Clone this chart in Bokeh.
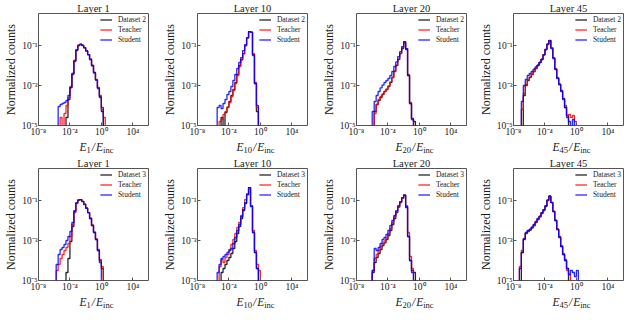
import numpy as np
from bokeh.plotting import figure
from bokeh.layouts import row, column
from bokeh.models import (Label, Legend, LegendItem, FixedTicker,
                          CustomJSTickFormatter, Range1d)
from bokeh.embed import file_html
from bokeh.resources import INLINE

# ---------------------------------------------------------------- data
LAYER_NAMES = ["Layer 1", "Layer 10", "Layer 20", "Layer 45"]
LAYER_SUBS = ["1", "10", "20", "45"]
DATASET_NAMES = ["Dataset 2", "Dataset 3"]
MODEL_NAMES = ["Teacher", "Student"]
Y_AXIS_TITLE = "Normalized counts"
X_TICKS = [1e-8, 1e-4, 1e0, 1e4]
Y_TICKS = [1e-5, 1e-3, 1e-1]
X_LIMITS = (1e-8, 1e6)
Y_LIMITS = (1e-5, 4.0)

# histogram binning: width of a bin in decades, first edge (log10) per panel
BIN_WIDTH_DEX = 0.25
BIN_START_D2 = [-5.5, -5.5, -6.0, -7.0]
BIN_START_D3 = [-5.75, -5.5, -6.0, -7.25]

# normalized counts per bin, given as log10 values (None = empty bin)
# ---- Dataset 2 row
D2_L1_DATA = [None, None, None, None, -4.6, -3.7, -3.1, -2.4, -1.75, -1.2, -0.99, -0.94,
              -1.0, -1.12, -1.27, -1.45, -1.7, -2.0, -2.37, -2.72, -3.12, -3.55, -4.3, None]
D2_L1_TEACHER = [None, -4.6, None, -4.4, -4.0, -3.6, -3.05, -2.4, -1.75, -1.22, -0.98, -0.94,
                 -0.99, -1.1, -1.26, -1.46, -1.7, -2.02, -2.35, -2.7, -3.1, -3.5, -4.2, -4.6]
D2_L1_STUDENT = [-4.05, -3.95, -3.9, -3.85, -3.75, -3.5, -3.1, -2.45, -1.8, -1.25, -1.0, -0.93,
                 -0.98, -1.1, -1.26, -1.45, -1.68, -2.0, -2.35, -2.73, -3.15, -3.6, -4.1, None]

D2_L10_DATA = [None, None, -4.6, None, -4.35, -4.08, -3.8, -3.5, -3.2, -2.85, -2.45, -2.0,
               -1.7, -1.4, -1.0, -0.62, -0.3, -0.33, -1.45, -2.9, -4.3]
D2_L10_TEACHER = [None, -4.8, -4.7, -4.45, -4.3, -4.1, -3.85, -3.55, -3.25, -2.9, -2.5, -2.05,
                  -1.72, -1.42, -1.02, -0.63, -0.31, -0.34, -1.4, -2.85, -4.1]
D2_L10_STUDENT = [-4.1, -4.0, -4.15, -3.9, -3.7, -3.45, -3.3, -3.05, -2.75, -2.45, -2.15, -1.85,
                  -1.6, -1.25, -0.95, -0.6, -0.3, -0.33, -1.5, -2.9, -4.0]

D2_L20_DATA = [None, -4.3, -3.95, -3.75, -3.6, -3.45, -3.3, -3.2, -3.05, -2.85, -2.6, -2.3,
               -2.0, -1.7, -1.4, -1.15, -0.85, -1.2, -2.5, -3.9, -4.7, -4.8]
D2_L20_TEACHER = [None, -4.4, -3.95, -3.7, -3.55, -3.42, -3.3, -3.18, -3.02, -2.82, -2.58, -2.28,
                  -1.98, -1.68, -1.38, -1.12, -0.82, -1.15, -2.45, -3.85, -4.7, None]
D2_L20_STUDENT = [-4.3, -3.8, -3.5, -3.3, -3.12, -2.98, -2.85, -2.75, -2.65, -2.5, -2.3, -2.05,
                  -1.82, -1.55, -1.3, -1.05, -0.8, -1.15, -2.5, -3.9, -4.65, None]

D2_L45_DATA = [None, -3.5, -3.0, -2.75, -2.6, -2.45, -2.3, -2.15, -2.0, -1.85, -1.7, -1.45,
               -1.2, -0.95, -0.75, -1.12, -1.62, -2.18, -2.62, -2.95, -3.3, -3.7, -4.1, -4.5,
               None, None, None, None, None]
D2_L45_TEACHER = [-4.2, -3.4, -2.95, -2.72, -2.58, -2.44, -2.3, -2.14, -2.0, -1.84, -1.68, -1.45,
                  -1.18, -0.93, -0.74, -1.1, -1.6, -2.15, -2.6, -2.92, -3.28, -3.68, -4.0, -4.5,
                  -4.45, -4.6, -4.5, -4.8, None]
D2_L45_STUDENT = [-3.8, -3.0, -2.7, -2.5, -2.4, -2.3, -2.18, -2.07, -1.98, -1.85, -1.7, -1.48,
                  -1.2, -0.92, -0.75, -1.15, -1.65, -2.2, -2.65, -2.95, -3.25, -3.65, -4.1, -4.6,
                  -4.8, None, -4.7, None, None]

# ---- Dataset 3 row
D3_L1_DATA = [None, None, None, None, None, -4.6, -3.9, -3.05, -2.3, -1.55, -1.12, -0.98,
              -0.95, -1.05, -1.2, -1.38, -1.6, -1.9, -2.25, -2.6, -2.95, -3.5, -4.0, -4.4]
D3_L1_TEACHER = [-4.5, -4.2, -3.9, -3.7, -3.5, -3.35, -3.15, -2.8, -2.2, -1.6, -1.15, -0.98,
                 -0.95, -1.04, -1.18, -1.37, -1.6, -1.88, -2.22, -2.58, -2.92, -3.45, -3.95, -4.3]
D3_L1_STUDENT = [-4.2, -3.7, -3.45, -3.35, -3.2, -3.0, -2.8, -2.55, -2.1, -1.5, -1.12, -0.97,
                 -0.95, -1.04, -1.18, -1.38, -1.6, -1.9, -2.25, -2.6, -2.95, -3.5, -4.1, None]

D3_L10_DATA = [None, None, -4.6, -4.4, -4.2, -4.0, -3.85, -3.65, -3.4, -3.05, -2.65, -2.3,
               -1.9, -1.5, -1.15, -0.7, -0.35, -1.25, -2.6, -3.6, -4.4, None]
D3_L10_TEACHER = [None, -4.3, -3.95, -4.1, -3.85, -3.7, -3.45, -3.2, -2.95, -2.65, -2.35, -2.1,
                  -1.75, -1.35, -0.95, -0.65, -0.35, -1.25, -2.5, -3.5, -4.2, -4.5]
D3_L10_STUDENT = [-4.6, -4.2, -3.9, -3.8, -3.7, -3.6, -3.5, -3.4, -3.15, -2.85, -2.5, -2.2,
                  -1.8, -1.45, -1.1, -0.7, -0.35, -1.3, -2.6, -3.6, -4.4, None]

D3_L20_DATA = [-4.6, -4.1, -3.85, -3.65, -3.45, -3.25, -3.12, -2.95, -2.75, -2.5, -2.2, -1.9,
               -1.6, -1.33, -1.1, -0.88, -0.73, -1.35, -2.8, -4.0, -4.5, -4.6]
D3_L20_TEACHER = [-4.5, -3.9, -3.7, -3.5, -3.3, -3.15, -3.02, -2.88, -2.65, -2.4, -2.1, -1.82,
                  -1.55, -1.3, -1.07, -0.86, -0.72, -1.25, -2.6, -3.8, -4.4, None]
D3_L20_STUDENT = [-4.5, -3.4, -3.5, -3.35, -3.15, -2.95, -2.85, -2.7, -2.5, -2.25, -2.0, -1.75,
                  -1.5, -1.25, -1.05, -0.85, -0.73, -1.3, -2.8, -4.0, -4.6, None]

D3_L45_DATA = [None, -3.6, -2.95, -2.65, -2.55, -2.48, -2.38, -2.27, -2.1, -1.95, -1.82, -1.65,
               -1.5, -1.3, -1.0, -0.78, -1.1, -1.55, -2.0, -2.45, -2.85, -3.3, -3.7, -4.0, -4.4,
               None, None, None, None, None, None]
D3_L45_TEACHER = [-4.3, -3.5, -2.9, -2.62, -2.52, -2.45, -2.35, -2.22, -2.08, -1.92, -1.8, -1.62,
                  -1.45, -1.25, -0.98, -0.77, -1.08, -1.52, -1.98, -2.42, -2.8, -3.25, -3.65,
                  -3.95, -4.5, -4.7, None, None, None, None, None]
D3_L45_STUDENT = [-4.4, -3.6, -2.92, -2.6, -2.5, -2.45, -2.33, -2.2, -2.05, -1.9, -1.78, -1.6,
                  -1.45, -1.27, -0.97, -0.78, -1.1, -1.55, -2.0, -2.45, -2.82, -3.3, -3.7, -4.0,
                  -4.4, -4.7, -4.5, -4.6, -4.8, -4.5, None]

ROWS = [
    (DATASET_NAMES[0], BIN_START_D2, [
        (D2_L1_DATA, D2_L1_TEACHER, D2_L1_STUDENT),
        (D2_L10_DATA, D2_L10_TEACHER, D2_L10_STUDENT),
        (D2_L20_DATA, D2_L20_TEACHER, D2_L20_STUDENT),
        (D2_L45_DATA, D2_L45_TEACHER, D2_L45_STUDENT)]),
    (DATASET_NAMES[1], BIN_START_D3, [
        (D3_L1_DATA, D3_L1_TEACHER, D3_L1_STUDENT),
        (D3_L10_DATA, D3_L10_TEACHER, D3_L10_STUDENT),
        (D3_L20_DATA, D3_L20_TEACHER, D3_L20_STUDENT),
        (D3_L45_DATA, D3_L45_TEACHER, D3_L45_STUDENT)]),
]

# ---------------------------------------------------------------- style
FONT = "Liberation Serif"
TEXT_COLOR = "#1a1a1a"
FRAME_COLOR = "#555555"
COLORS = ["#000000", "#ff0000", "#0000ff"]
LINE_ALPHA = 0.85
LINE_WIDTH = 1.3
FIG_W = [159, 159, 157, 149]
BORDER_L, BORDER_T, BORDER_B = 32, 13, 13
FRAME_W = 116
FRAME_H = 113
STRIP_H = 16
FIG_H = BORDER_T + FRAME_H + BORDER_B
FLOOR = 1e-8  # empty bins drop below the visible range

# approximate advance widths (em) used to assemble the math-style x label
EM = {"E": 0.611, "/": 0.278, "i": 0.278, "n": 0.5, "c": 0.444}
for d in "0123456789":
    EM[d] = 0.5

SUP_FORMATTER_CODE = """
const e = Math.round(Math.log10(tick));
const sup = {"-": "\u207b", "0": "\u2070", "1": "\u00b9", "2": "\u00b2", "3": "\u00b3",
             "4": "\u2074", "5": "\u2075", "6": "\u2076", "7": "\u2077", "8": "\u2078", "9": "\u2079"};
return "10" + String(e).split("").map(c => sup[c]).join("");
"""


def step_path(start, logvals):
    n = len(logvals)
    edges = 10.0 ** (start + BIN_WIDTH_DEX * np.arange(n + 1))
    counts = [10.0 ** v if v is not None else FLOOR for v in logvals]
    xs, ys = [edges[0]], [FLOOR]
    for i, c in enumerate(counts):
        xs += [edges[i], edges[i + 1]]
        ys += [c, c]
    xs.append(edges[-1])
    ys.append(FLOOR)
    return xs, ys


def text_width(s, size):
    return sum(EM.get(ch, 0.5) for ch in s) * size


def make_panel(col, dataset, start, curves):
    p = figure(width=FIG_W[col], height=FIG_H, x_axis_type="log", y_axis_type="log",
               x_range=Range1d(*X_LIMITS), y_range=Range1d(*Y_LIMITS),
               output_backend="svg", toolbar_location=None,
               min_border_left=BORDER_L, min_border_right=FIG_W[col] - BORDER_L - FRAME_W,
               min_border_top=BORDER_T, min_border_bottom=BORDER_B)
    p.background_fill_color = "white"
    p.border_fill_color = "white"
    p.outline_line_color = FRAME_COLOR
    p.outline_line_width = 1
    p.xgrid.visible = False
    p.ygrid.visible = False

    p.title.text = LAYER_NAMES[col]
    p.title.align = "center"
    p.title.text_font = FONT
    p.title.text_font_size = "10.5px"
    p.title.text_font_style = "normal"
    p.title.text_color = TEXT_COLOR
    p.title.standoff = 0
    p.title.offset = 0

    p.xaxis.ticker = FixedTicker(ticks=X_TICKS, minor_ticks=[])
    p.yaxis.ticker = FixedTicker(ticks=Y_TICKS, minor_ticks=[])
    for ax in (p.xaxis[0], p.yaxis[0]):
        ax.formatter = CustomJSTickFormatter(code=SUP_FORMATTER_CODE)
        ax.axis_line_color = None
        ax.major_tick_in = 3
        ax.major_tick_out = 0
        ax.minor_tick_in = 0
        ax.minor_tick_out = 0
        ax.major_tick_line_color = FRAME_COLOR
        ax.major_label_text_font = FONT
        ax.major_label_text_font_size = "9.5px"
        ax.major_label_text_color = TEXT_COLOR
        ax.major_label_standoff = 1
    p.yaxis.axis_label = Y_AXIS_TITLE
    p.yaxis.axis_label_text_font = FONT
    p.yaxis.axis_label_text_font_size = "12px"
    p.yaxis.axis_label_text_font_style = "normal"
    p.yaxis.axis_label_text_color = TEXT_COLOR
    p.yaxis.axis_label_standoff = 1

    names = [dataset] + MODEL_NAMES
    items = []
    for k, vals in enumerate(curves):
        xs, ys = step_path(start[col], vals)
        r = p.line(xs, ys, line_color=COLORS[k], line_alpha=LINE_ALPHA, line_width=LINE_WIDTH)
        items.append(LegendItem(label=names[k], renderers=[r]))
    legend = Legend(items=items, location="top_right", label_text_font=FONT,
                    label_text_font_size="7.5px", label_text_color=TEXT_COLOR,
                    glyph_width=12, glyph_height=9, label_height=9, label_standoff=6,
                    spacing=1, padding=3, margin=2, border_line_color=None,
                    background_fill_alpha=0)
    p.add_layout(legend)
    return p


def make_xlabel_strip(col):
    """A thin text-only plot under each panel holding E_k / E_inc.
    Its frame is aligned by the column layout with the panel's frame."""
    s = figure(width=FIG_W[col], height=STRIP_H, x_range=Range1d(0, 1),
               y_range=Range1d(0, 1), min_border=0, toolbar_location=None,
               output_backend="svg", x_axis_location=None, y_axis_location=None)
    s.outline_line_color = None
    s.background_fill_color = "white"
    s.border_fill_color = "white"
    s.grid.visible = False
    big, small = 11.5, 8.5
    parts = [("E", big, "italic", 9.0, 0.0), (LAYER_SUBS[col], small, "normal", 5.8, 1.0),
             ("/", big, "italic", 9.0, 1.0), ("E", big, "italic", 9.0, 0.0),
             ("inc", small, "normal", 5.8, 0.0)]
    total = sum(text_width(t, sz) + gap for t, sz, _, _, gap in parts)
    x = FRAME_W / 2 - total / 2
    for t, sz, st, yc, gap in parts:
        s.add_layout(Label(x=x, y=yc, x_units="screen", y_units="screen", text=t,
                           text_font=FONT, text_font_size=f"{sz}px", text_font_style=st,
                           text_color=TEXT_COLOR, text_align="left",
                           text_baseline="middle"))
        x += text_width(t, sz) + gap
    return s


rows = []
for dataset, start, panel_curves in ROWS:
    cells = [column(make_panel(c, dataset, start, panel_curves[c]), make_xlabel_strip(c),
                    spacing=0) for c in range(4)]
    rows.append(row(*cells, spacing=0))
layout = column(*rows, spacing=0)

with open("out.html", "w", encoding="utf-8") as f:
    f.write(file_html(layout, INLINE))
